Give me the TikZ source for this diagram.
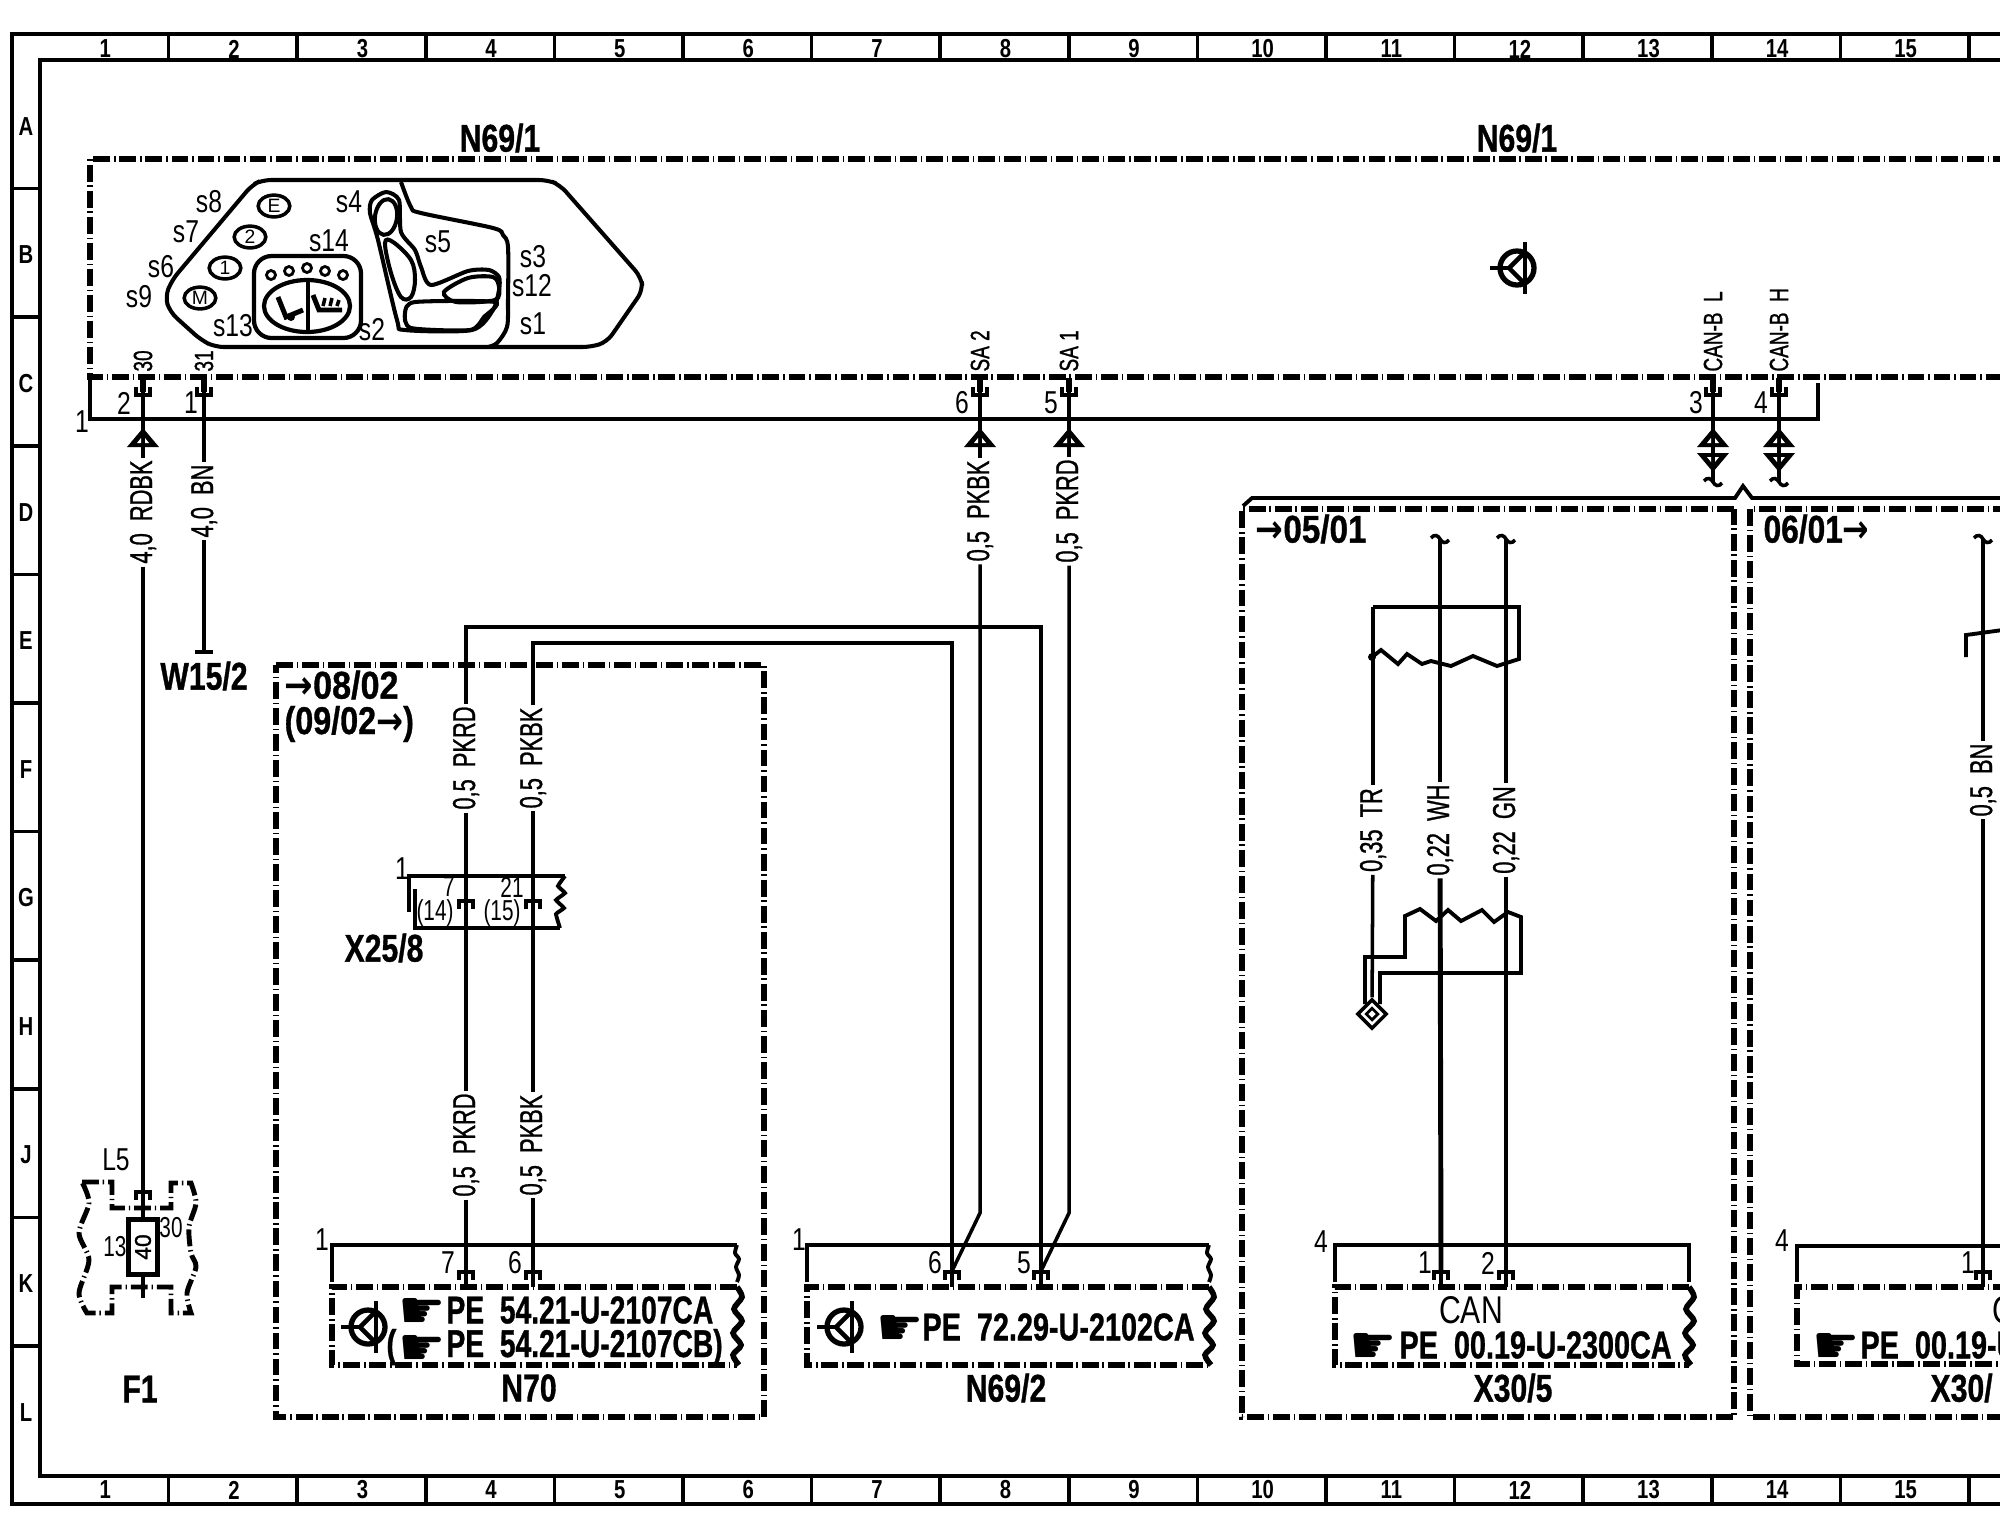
\documentclass[tikz,border=0pt]{standalone}
\usepackage{fontspec}
\setmainfont{Liberation Sans}
\newfontfamily\symfont{DejaVu Sans}
\newfontfamily\medfont[FakeBold=1.2]{Liberation Sans}
\newfontfamily\heavyfont[BoldFeatures={FakeBold=1}]{Liberation Sans}
\usetikzlibrary{shapes.geometric}

\tikzset{
    wire/.style={line width=1pt},
    wirefat/.style={line width=1.4pt},
    conn/.style={line width=1.1pt},
    ddframe/.style={line width=1.6pt, dash pattern=on 4.8pt off 1.1pt on .4pt off 1.1pt},
    panel/.style={line width=1.15pt},
    wlabel/.style={rotate=90, xscale=.69, inner sep=1pt, font=\medfont\fontsize{9}{10}\selectfont},
    pintag/.style={rotate=90, anchor=west, xscale=.72, inner sep=0pt, font=\medfont\fontsize{7.5}{8}\selectfont},
    pinnum/.style={xscale=.78, inner sep=0pt, font=\fontsize{9}{10}\selectfont},
    smallnum/.style={xscale=.72, inner sep=0pt, font=\fontsize{8.2}{9}\selectfont},
    bigname/.style={xscale=.78, inner sep=0pt, font=\heavyfont\fontsize{11}{12}\bfseries\selectfont},
    petext/.style={anchor=west, xscale=.73, inner sep=0pt, font=\heavyfont\fontsize{11}{12}\bfseries\selectfont},
    handmark/.style={anchor=west, inner sep=0pt, yshift=-1pt, font=\symfont\fontsize{15}{15}\selectfont},
    ruler/.style={xscale=.78, inner sep=0pt, font=\fontsize{7.4}{8}\bfseries\selectfont},
    btn/.style={ellipse, draw, line width=1pt, inner sep=0pt, minimum width=9pt, minimum height=6.2pt,
        font=\fontsize{5.5}{6}\selectfont},
    pincup/.pic={
        \draw[line width=1.1pt] (-7,9) -- (-7,17) -- (7,17) -- (7,9);
        \draw[line width=1.5pt] (0,0) -- (0,14);
    },
    pincap/.pic={
        \draw[line width=1.1pt] (-7,9) -- (-7,1) -- (7,1) -- (7,9);
        \draw[line width=1.3pt] (0,1) -- (0,16);
    },
    arrowup/.pic={
        \fill (0,0) -- (16,19) -- (-16,19) -- cycle;
        \fill[white] (-6,15) -- (-2,15) -- (-2,10) -- cycle (6,15) -- (2,15) -- (2,10) -- cycle;
    },
    arrowdn/.pic={
        \fill (0,19) -- (16,0) -- (-16,0) -- cycle;
        \fill[white] (-6,4) -- (-2,4) -- (-2,9) -- cycle (6,4) -- (2,4) -- (2,9) -- cycle;
    },
    wiretilde/.pic={
        \draw[wire] (-9,-1) .. controls (-6,-5) and (-2,-4) .. (0,0) .. controls (2,4) and (6,5) .. (9,1);
    },
    wavysmall/.pic={
        \draw[conn] plot[smooth] coordinates {(0,0) (-2,8) (2,14) (-1,22) (2,30) (0,37)};
    },
    wavybig/.pic={
        \draw[line width=1.6pt] plot[smooth] coordinates {(0,0) (5,10) (-3,22) (5,34) (-4,46) (4,58) (-4,68) (2,78)};
    },
    ecusym/.pic={
        \draw[line width=1.5pt] (0,0) circle [radius=17];
        \draw[wire] (-27,0) -- (-8,0);
        \draw[line width=1.3pt] (-8,0) -- (8,-16) (-8,0) -- (8,16);
        \draw[line width=1.2pt] (8,-26) -- (8,26);
    }
}

\begin{document}
\begin{tikzpicture}[x=.01cm,y=-.01cm]
    \useasboundingbox (0,0) rectangle (2000,1520);
    \clip (0,0) rectangle (2000,1520);

    % sheet frame
    \draw[line width=1.4pt] (2010,34) -- (12,34) -- (12,1504) -- (2010,1504);
    \draw[line width=.9pt] (2010,60) -- (40,60) -- (40,1476) -- (2010,1476);
    \foreach \n [evaluate=\n as \cx using 41+128.6*(\n-.5), evaluate=\n as \tx using 40+128.6*\n] in {1,...,15} {
        \node[ruler] (top\n) at (\cx,49) {\n};
        \node[ruler] (bot\n) at (\cx,1490) {\n};
        \draw[line width=1pt] (\tx,34) -- (\tx,60);
        \draw[line width=1pt] (\tx,1476) -- (\tx,1504);
    }
    \foreach \row [count=\i, evaluate=\i as \cy using 62+128.6*(\i-.5), evaluate=\i as \ty using 60+128.6*\i] in {A,B,C,D,E,F,G,H,J,K,L} {
        \node[ruler] (row\row) at (26,\cy) {\row};
        \ifnum\i<11 \draw[line width=1pt] (12,\ty) -- (40,\ty); \fi
    }

    % N69/1 control unit
    \node[bigname] (nameA) at (500,138) {N69/1};
    \node[bigname] (nameB) at (1517,138) {N69/1};
    \draw[ddframe] (2010,159) -- (90,159) -- (90,377) -- (2010,377);
    \draw[conn] (90,378) -- (90,419) -- (1818,419) -- (1818,383);
    \pic at (1517,268) {ecusym};
    \node[pinnum] (cn1) at (82,422) {1};

    % seat panel
    \draw[panel, rounded corners=2.5pt] (262,180) -- (548,180) -- (560,185) -- (641,277) -- (643,290) -- (607,342)
        -- (591,347) -- (215,347) -- (201,340) -- (170,312) -- (165,297) -- (172,280) -- (252,185) -- cycle;
    \draw[panel] plot[smooth, tension=.5] coordinates {(401,182) (411,207) (421,213) (493,228) (503,235) (508,247)
        (508,300) (507,327) (497,343) (488,347)};
    \draw[panel] plot[smooth cycle, tension=.45] coordinates {(386,192) (372,200) (370,213) (378,240) (397,320) (405,330)
        (472,330) (493,310) (499,290) (499,277) (489,270) (468,271) (431,285) (421,267) (415,250) (401,232) (399,200)};
    \draw[panel, rotate around={-8:(386,217)}] (386,217) ellipse [x radius=11, y radius=18];
    \draw[panel] plot[smooth cycle, tension=.6] coordinates {(385,243) (393,242) (411,260) (415,280) (411,297) (401,297) (391,273)};
    \draw[panel] plot[smooth cycle, tension=.5] coordinates {(444,292) (468,278) (493,277) (499,287) (495,300) (456,302)};
    \draw[panel] plot[smooth cycle, tension=.4] coordinates {(405,313) (415,302) (495,302) (484,317) (470,330) (411,328)};
    \draw[line width=1.2pt, rounded corners=5pt] (254,256) rectangle (361,338);
    \draw[line width=1.2pt] (307,306) ellipse [x radius=43, y radius=26];
    \draw[wire] (308,279) -- (308,332);
    \foreach \cx/\cy in {271/275,289/271,307/268,325/271,343/275} {
        \draw[line width=.8pt] (\cx,\cy) circle [radius=4.5];
    }
    \draw[line width=1.4pt] (278,297) -- (286,317) -- (303,310);
    \fill (291,317) circle [radius=4];
    \draw[line width=1.4pt] (313,295) -- (319,310) -- (342,310);
    \draw[line width=1pt] (323,306) -- (325,298) (330,306) -- (332,298) (337,306) -- (339,300);
    \foreach \txt/\cx/\cy in {E/274/206,2/250/237,1/225/268,M/200/298} {
        \node[btn] (btn\txt) at (\cx,\cy) {\txt};
    }
    \foreach \txt/\cx/\cy in {s8/209/202,s7/186/232,s6/161/267,s9/139/297,s13/233/326,s14/329/241,
        s4/349/202,s5/438/242,s3/533/257,s12/532/286,s1/533/324,s2/372/330} {
        \node[pinnum] (lab\txt) at (\cx,\cy) {\txt};
    }

    % pins of N69/1
    \coordinate (p30) at (143,378);
    \coordinate (p31) at (204,378);
    \coordinate (pSAb) at (980,378);
    \coordinate (pSAa) at (1069,378);
    \coordinate (pCL) at (1713,378);
    \coordinate (pCH) at (1779,378);
    \foreach \pt in {p30,p31,pSAb,pSAa,pCL,pCH} {
        \pic at (\pt) {pincup};
    }
    \node[pintag] (tag30) at (143,372) {30};
    \node[pintag] (tag31) at (204,372) {31};
    \node[pintag] (tagSAb) at (980,372) {SA 2};
    \node[pintag] (tagSAa) at (1069,372) {SA 1};
    \node[pintag] (tagCL) at (1713,372) {CAN-B\ \ L};
    \node[pintag] (tagCH) at (1779,372) {CAN-B\ \ H};
    \node[pinnum] (num2) at (124,403) {2};
    \node[pinnum] (num1) at (191,403) {1};
    \node[pinnum] (num6) at (962,403) {6};
    \node[pinnum] (num5) at (1051,403) {5};
    \node[pinnum] (num3) at (1696,403) {3};
    \node[pinnum] (num4) at (1761,403) {4};

    % CAN wires going off
    \coordinate (endCL) at (1713,482);
    \coordinate (endCH) at (1779,482);
    \draw[wire] (pCL) -- (endCL);
    \draw[wire] (pCH) -- (endCH);
    \pic at (1713,428) {arrowup};
    \pic at (1779,428) {arrowup};
    \pic at (1713,453) {arrowdn};
    \pic at (1779,453) {arrowdn};
    \pic at (endCL) {wiretilde};
    \pic at (endCH) {wiretilde};

    % fuse F1
    \node[bigname] (nameF) at (140,1389) {F1};
    \node[pinnum] (nameL) at (116,1160) {L5};
    \draw[line width=1.4pt, dash pattern=on 4.8pt off 1.1pt on .4pt off 1.1pt]
        (82,1182) -- (112,1182) -- (112,1208) -- (171,1208) -- (171,1183) -- (191,1183)
        -- plot[smooth] coordinates {(191,1183) (196,1203) (189,1227) (191,1253) (196,1267) (187,1293) (191,1313)}
        -- (171,1313) -- (171,1287) -- (112,1287) -- (112,1313) -- (87,1313)
        -- plot[smooth] coordinates {(87,1313) (79,1293) (89,1260) (79,1233) (89,1203) (82,1182)};
    \node[draw, line width=1.2pt, rotate=90, minimum width=15.6pt, minimum height=8.2pt, inner sep=0pt,
        fill=white, font=\medfont\fontsize{6.5}{7}\selectfont] (fuse) at (143,1247) {40};
    \node[smallnum] (fuseA) at (115,1247) {13};
    \node[smallnum] (fuseB) at (171,1228) {30};
    \coordinate (fuseIn) at (143,1193);
    \coordinate (fuseOut) at (143,1298);
    \draw[line width=1.1pt] (136,1200) -- (136,1192) -- (150,1192) -- (150,1200);

    % wires from N69/1
    \node[wlabel] (lRDBK) at (143,512) {4,0\ \ RDBK};
    \node[wlabel] (lBN) at (204,501) {4,0\ \ BN};
    \node[wlabel] (lSAb) at (980,511) {0,5\ \ PKBK};
    \node[wlabel] (lSAa) at (1069,511) {0,5\ \ PKRD};
    \coordinate (endW) at (204,652);
    \coordinate (bendSAb) at (980,1213);
    \coordinate (bendSAa) at (1069,1213);
    \coordinate (pinB6) at (952,1271);
    \coordinate (pinB5) at (1041,1271);
    \draw[wire] (p30) -- (lRDBK);
    \draw[wire] (lRDBK) -- (fuseIn) -- (fuse);
    \draw[wire] (fuse) -- (fuseOut);
    \draw[wire] (p31) -- (lBN);
    \draw[wire] (lBN) -- (endW);
    \draw[line width=1.3pt] (195,652) -- (213,652);
    \node[bigname] (nameW) at (204,676) {W15/2};
    \draw[wire] (pSAb) -- (lSAb);
    \draw[wire] (lSAb) -- (bendSAb) -- (pinB6);
    \draw[wire] (pSAa) -- (lSAa);
    \draw[wire] (lSAa) -- (bendSAa) -- (pinB5);
    \pic at (143,428) {arrowup};
    \pic at (980,428) {arrowup};
    \pic at (1069,428) {arrowup};

    % variant box N70
    \draw[ddframe] (276,665) -- (764,665) -- (764,1417) -- (276,1417) -- cycle;
    \node[bigname, xscale=1.13, anchor=west] (refA) at (284,685) {{\symfont\bfseries →}08/02};
    \node[bigname, xscale=1.07, anchor=west] (refB) at (284,724) {(09/02{\symfont\bfseries →})};
    \node[wlabel] (lCa) at (466,758) {0,5\ \ PKRD};
    \node[wlabel] (lDa) at (533,758) {0,5\ \ PKBK};
    \node[wlabel] (lCb) at (466,1145) {0,5\ \ PKRD};
    \node[wlabel] (lDb) at (533,1145) {0,5\ \ PKBK};
    \coordinate (topCa) at (466,627);
    \coordinate (topCb) at (1041,627);
    \coordinate (topDa) at (533,643);
    \coordinate (topDb) at (952,643);
    \coordinate (pinN7) at (466,1271);
    \coordinate (pinN6) at (533,1271);
    \draw[wirefat] (lCa) -- (topCa) -- (topCb) -- (pinB5);
    \draw[wire] (lDa) -- (topDa) -- (topDb) -- (pinB6);
    \draw[wirefat] (lCa) -- (lCb);
    \draw[wire] (lDa) -- (lDb);
    \draw[wirefat] (lCb) -- (pinN7);
    \draw[wire] (lDb) -- (pinN6);

    % connector X25/8
    \draw[conn] (409,912) -- (409,876) -- (565,876);
    \draw[conn] (415,889) -- (415,928) -- (560,928);
    \draw[conn] plot[smooth, tension=.2] coordinates {(565,876) (558,886) (565,893) (556,900) (564,908) (556,914) (560,928)};
    \node[pinnum] (xnum) at (402,869) {1};
    \node[smallnum] (x7) at (449,887) {7};
    \node[smallnum] (x21) at (512,887) {21};
    \node[smallnum] (x14) at (435,913) {(14)};
    \node[smallnum] (x15) at (502,913) {(15)};
    \draw[line width=1.2pt] (459,909) -- (459,901) -- (473,901) -- (473,909);
    \draw[line width=1.2pt] (526,909) -- (526,901) -- (540,901) -- (540,909);
    \node[bigname] (nameX) at (384,948) {X25/8};

    % connector N70
    \draw[conn] (332,1282) -- (332,1245) -- (737,1245);
    \pic at (737,1245) {wavysmall};
    \draw[ddframe] (737,1287) -- (332,1287) -- (332,1365) -- (737,1365);
    \pic at (737,1287) {wavybig};
    \node[pinnum] (nA) at (322,1240) {1};
    \node[pinnum] (nA7) at (448,1263) {7};
    \node[pinnum] (nA6) at (515,1263) {6};
    \pic at (pinN7) {pincap};
    \pic at (pinN6) {pincap};
    \pic at (368,1327) {ecusym};
    \node[handmark] (handA) at (398,1310) {☛};
    \node[handmark] (handB) at (398,1347) {☛};
    \node[bigname, anchor=east] (handB0) at (397,1347) {(};
    \node[petext] (peA) at (446,1310) {PE\ \ 54.21-U-2107CA};
    \node[petext] (peB) at (446,1347) {PE\ \ 54.21-U-2107CB)};
    \node[bigname] (nameN) at (529,1388) {N70};

    % connector N69/2
    \draw[conn] (807,1282) -- (807,1245) -- (1209,1245);
    \pic at (1209,1245) {wavysmall};
    \draw[ddframe] (1209,1287) -- (807,1287) -- (807,1365) -- (1209,1365);
    \pic at (1209,1287) {wavybig};
    \node[pinnum] (nB) at (799,1240) {1};
    \node[pinnum] (nB6) at (935,1263) {6};
    \node[pinnum] (nB5) at (1024,1263) {5};
    \pic at (pinB6) {pincap};
    \pic at (pinB5) {pincap};
    \pic at (844,1327) {ecusym};
    \node[handmark] (handC) at (876,1327) {☛};
    \node[petext, xscale=1.02] (peC) at (922,1327) {PE\ \ 72.29-U-2102CA};
    \node[bigname] (nameNB) at (1006,1388) {N69/2};

    % variant boxes X30
    \draw[conn] (1243,506) -- (1252,498) -- (1735,498) -- (1743,486) -- (1752,498) -- (2010,498);
    \draw[ddframe] (1734,509) -- (1242,509) -- (1242,1417) -- (1734,1417) -- cycle;
    \draw[ddframe] (2010,509) -- (1750,509) -- (1750,1417) -- (2010,1417);
    \node[bigname, xscale=1.1, anchor=west] (refC) at (1255,529) {{\symfont\bfseries →}05/01};
    \node[bigname, xscale=1.05, anchor=west] (refD) at (1763,529) {06/01{\symfont\bfseries →}};

    % connector X30/5
    \draw[conn] (1335,1282) -- (1335,1245) -- (1689,1245) -- (1689,1282);
    \draw[ddframe] (1689,1287) -- (1335,1287) -- (1335,1365) -- (1689,1365);
    \pic at (1689,1287) {wavybig};
    \node[pinnum] (nC) at (1321,1242) {4};
    \node[pinnum] (nC1) at (1425,1263) {1};
    \node[pinnum] (nC2) at (1488,1263) {2};
    \node[font=\fontsize{11}{12}\selectfont, xscale=.78, inner sep=0pt] (canA) at (1471,1310) {CAN};
    \node[handmark] (handD) at (1349,1345) {☛};
    \node[petext, xscale=1.02] (peD) at (1399,1345) {PE\ \ 00.19-U-2300CA};
    \node[bigname] (nameXa) at (1513,1388) {X30/5};

    % connector X30, cut by the sheet edge
    \draw[conn] (1797,1282) -- (1797,1246) -- (2010,1246);
    \draw[ddframe] (2010,1287) -- (1797,1287) -- (1797,1364) -- (2010,1364);
    \node[pinnum] (nD) at (1782,1241) {4};
    \node[pinnum] (nD1) at (1968,1263) {1};
    \node[font=\fontsize{11}{12}\selectfont, xscale=.78, inner sep=0pt, anchor=west] (canB) at (1992,1310) {C};
    \node[handmark] (handE) at (1812,1345) {☛};
    \node[petext, xscale=1.02] (peE) at (1860,1345) {PE\ \ 00.19-U};
    \node[bigname, anchor=west] (nameXb) at (1930,1388) {X30/};

    % CAN wires in the boxes
    \node[wlabel] (lTR) at (1373,830) {0,35\ \ TR};
    \node[wlabel] (lWH) at (1440,830) {0,22\ \ WH};
    \node[wlabel] (lGN) at (1506,830) {0,22\ \ GN};
    \node[wlabel] (lBNb) at (1983,780) {0,5\ \ BN};
    \coordinate (topTR) at (1373,607);
    \coordinate (topWH) at (1440,539);
    \coordinate (topGN) at (1506,539);
    \coordinate (topBN) at (1983,539);
    \coordinate (pinC1) at (1441,1271);
    \coordinate (pinC2) at (1506,1271);
    \coordinate (pinD1) at (1983,1271);
    \node[diamond, draw, line width=1pt, minimum size=8.5pt, inner sep=0pt, aspect=1] (gnd) at (1372,1014) {};
    \node[diamond, draw, line width=.8pt, minimum size=3.6pt, inner sep=0pt, aspect=1] (gndi) at (1372,1014) {};
    \draw[wire] (lTR) -- (topTR);
    \draw[wire] (lTR) -- (gnd);
    \draw[wirefat] (lWH) -- (topWH);
    \draw[wirefat] (lWH) -- (pinC1);
    \draw[wire] (lGN) -- (topGN);
    \draw[wire] (lGN) -- (pinC2);
    \draw[wire] (lBNb) -- (topBN);
    \draw[wire] (lBNb) -- (pinD1);
    \pic at (topWH) {wiretilde};
    \pic at (topGN) {wiretilde};
    \pic at (topBN) {wiretilde};
    \pic at (pinC1) {pincap};
    \pic at (pinC2) {pincap};
    \pic at (pinD1) {pincap};

    % screen of the twisted pair
    \draw[conn] (topTR) -- (1519,607) -- (1519,659) -- (1497,666) -- (1473,656) -- (1451,666) -- (1431,661)
        -- (1422,664) -- (1407,654) -- (1398,664) -- (1381,650) -- (1372,657);
    \fill (1372,657) circle [radius=4];
    \draw[conn] (1365,1004) -- (1365,957) -- (1405,957) -- (1405,916) -- (1420,909) -- (1436,921) -- (1448,910)
        -- (1461,921) -- (1482,910) -- (1494,922) -- (1508,912) -- (1521,917) -- (1521,973) -- (1380,973) -- (1380,1004);
    \draw[conn] (1966,657) -- (1966,635) -- (2010,629);
\end{tikzpicture}
\end{document}
